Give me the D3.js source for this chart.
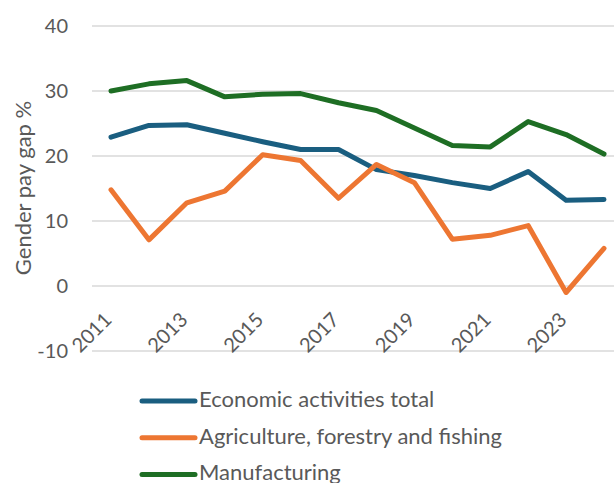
<!DOCTYPE html>
<html>
<head>
<meta charset="utf-8">
<script src="https://cdn.jsdelivr.net/npm/d3@7"></script>
<style>
  html, body { margin: 0; padding: 0; background: #fff; }
  svg { display: block; font-family: Lato, "Open Sans", sans-serif; }
</style>
</head>
<body>
<svg id="chart" width="614" height="483"></svg>
<script>
// Gender pay gap by sector, 2011–2024
const years = [2011, 2012, 2013, 2014, 2015, 2016, 2017, 2018, 2019, 2020, 2021, 2022, 2023, 2024];
const economicTotal = [22.9, 24.7, 24.8, 23.5, 22.2, 21.0, 21.0, 17.9, 17.0, 15.9, 15.0, 17.6, 13.2, 13.3];
const agriculture   = [14.8, 7.1, 12.8, 14.6, 20.2, 19.3, 13.5, 18.7, 15.9, 7.2, 7.8, 9.3, -1.0, 5.8];
const manufacturing = [30.0, 31.1, 31.6, 29.1, 29.5, 29.6, 28.2, 27.0, 24.3, 21.6, 21.4, 25.3, 23.3, 20.3];
const yTicks = [-10, 0, 10, 20, 30, 40];
const xTickYears = [2011, 2013, 2015, 2017, 2019, 2021, 2023];
const seriesNames = ["Economic activities total", "Agriculture, forestry and fishing", "Manufacturing"];
const seriesColors = ["#1a5e80", "#ed7632", "#1e6e24"];

const series = [economicTotal, agriculture, manufacturing];

const svg = d3.select("#chart");
const textColor = "#595959";

const x = d3.scalePoint().domain(years).range([111, 604]);
const y = d3.scaleLinear().domain([-10, 40]).range([351, 26]);

// horizontal gridlines
svg.append("g")
  .selectAll("line")
  .data(yTicks)
  .join("line")
  .attr("x1", 92).attr("x2", 614)
  .attr("y1", d => y(d)).attr("y2", d => y(d))
  .attr("stroke", "#d9d9d9")
  .attr("stroke-width", 1.5);

// y tick labels
svg.append("g")
  .selectAll("text")
  .data(yTicks)
  .join("text")
  .attr("x", 68)
  .attr("y", d => y(d))
  .attr("dy", "0.35em")
  .attr("text-anchor", "end")
  .attr("fill", textColor)
  .attr("font-size", 20)
  .text(d => d);

// y axis title
svg.append("text")
  .attr("transform", "translate(31,188) rotate(-90)")
  .attr("text-anchor", "middle")
  .attr("fill", textColor)
  .attr("font-size", 22)
  .text("Gender pay gap %");

// x tick labels, rotated
svg.append("g")
  .selectAll("text")
  .data(xTickYears)
  .join("text")
  .attr("transform", d => `translate(${x(d) + 2},321) rotate(-45)`)
  .attr("text-anchor", "end")
  .attr("fill", textColor)
  .attr("font-size", 20)
  .text(d => d);

// series lines
const line = d3.line()
  .x((d, i) => x(years[i]))
  .y(d => y(d));

svg.append("g")
  .selectAll("path")
  .data(series)
  .join("path")
  .attr("d", d => line(d))
  .attr("fill", "none")
  .attr("stroke", (d, i) => seriesColors[i])
  .attr("stroke-width", 5)
  .attr("stroke-linejoin", "round")
  .attr("stroke-linecap", "round");

// legend
const legend = svg.append("g")
  .selectAll("g")
  .data(seriesNames)
  .join("g")
  .attr("transform", (d, i) => `translate(0,${401 + i * 36.7})`);

legend.append("line")
  .attr("x1", 142).attr("x2", 195)
  .attr("y1", 0).attr("y2", 0)
  .attr("stroke", (d, i) => seriesColors[i])
  .attr("stroke-width", 5)
  .attr("stroke-linecap", "round");

legend.append("text")
  .attr("x", 199)
  .attr("y", 6)
  .attr("fill", textColor)
  .attr("font-size", 22)
  .text(d => d);
</script>
</body>
</html>
